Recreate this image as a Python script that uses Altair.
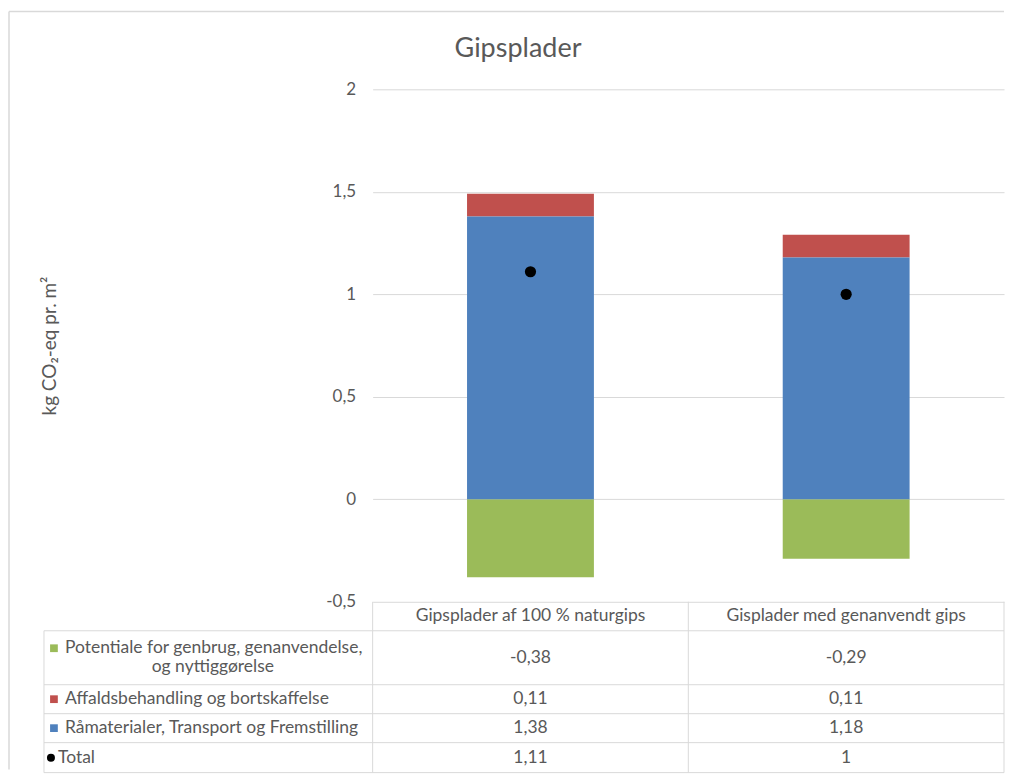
import altair as alt
import pandas as pd

# ---------------- data ----------------
categories = ["Gipsplader af 100 % naturgips", "Gisplader med genanvendt gips"]
series = [
    "Potentiale for genbrug, genanvendelse,\nog nyttiggørelse",
    "Affaldsbehandling og bortskaffelse",
    "Råmaterialer, Transport og Fremstilling",
]
series_colors = ["#9BBB59", "#C0504D", "#4F81BD"]
stack_order = [2, 1, 0]
potentiale = [-0.38, -0.29]
affald = [0.11, 0.11]
raamaterialer = [1.38, 1.18]
total = [1.11, 1.0]
total_label = "Total"
y_ticks = [-0.5, 0, 0.5, 1, 1.5, 2]

# ---------------- layout constants ----------------
FONT = "Lato"
TXT = "#595959"
GRID = "#D9D9D9"
PLOT_W = 632
PLOT_H = 513
TABLE_H = 171
ROW_H = [29, 54, 29, 29, 30]
LEFT_COL = -329
BORDER_X = -364
BORDER_TOP = -591


def fmt(v):
    return f"{v:g}".replace(".", ",")


# ---------------- bar chart ----------------
values = [potentiale, affald, raamaterialer]
rows = []
for s, vals, o in zip(series, values, stack_order):
    for c, v in zip(categories, vals):
        rows.append({"category": c, "series": s, "value": v, "order": o})
bars_df = pd.DataFrame(rows)
tot_df = pd.DataFrame({"category": categories, "total": total})

x_enc = alt.X("category:N", sort=categories,
              scale=alt.Scale(paddingInner=0, paddingOuter=0), axis=None)

bars = alt.Chart(bars_df).mark_bar(size=127).encode(
    x=x_enc,
    y=alt.Y("value:Q", stack="zero",
            scale=alt.Scale(domain=[-0.5, 2], nice=False, zero=False),
            axis=alt.Axis(values=y_ticks, grid=True, gridColor=GRID, domain=False,
                          ticks=False, tickSize=0, labelPadding=17, labelFontSize=17,
                          labelFont=FONT, labelColor=TXT,
                          labelExpr="replace(toString(datum.value), '.', ',')",
                          title="kg CO₂-eq pr. m²", titleFontSize=19, titleFont=FONT,
                          titleColor=TXT,
                          titleFontWeight="normal", titleX=-313, titleY=PLOT_H / 2)),
    color=alt.Color("series:N", scale=alt.Scale(domain=series, range=series_colors),
                    legend=None),
    order=alt.Order("order:Q"),
)
dots = alt.Chart(tot_df).mark_circle(size=125, color="black", opacity=1).encode(
    x=x_enc, y=alt.Y("total:Q"))

top = alt.layer(bars, dots).properties(
    width=PLOT_W, height=PLOT_H,
    title=alt.TitleParams("Gipsplader", anchor="start", frame="group", dx=82,
                          offset=17, fontSize=27, font=FONT, color=TXT,
                          fontWeight="normal"),
)

# ---------------- data table ----------------
cum = [0]
for h in ROW_H:
    cum.append(cum[-1] + h)
centers = [(cum[i] + cum[i + 1]) / 2 for i in range(len(ROW_H))]

y_tab = alt.Y("ty:Q", scale=alt.Scale(domain=[0, TABLE_H], reverse=True, nice=False,
                                      zero=False), axis=None)
y2_tab = alt.Y2("ty2:Q")
xt = alt.X("category:N", sort=categories,
           scale=alt.Scale(paddingInner=0, paddingOuter=0), axis=None)

head_df = pd.DataFrame({"category": categories, "ty": centers[0], "txt": categories})
cell_rows = []
for r, vals in enumerate([potentiale, affald, raamaterialer, total]):
    for c, v in zip(categories, vals):
        cell_rows.append({"category": c, "ty": centers[r + 1], "txt": fmt(v)})
cell_df = pd.DataFrame(cell_rows)

text_props = dict(font=FONT, fontSize=17.5, color=TXT, baseline="middle")
head = alt.Chart(head_df).mark_text(**text_props).encode(x=xt, y=y_tab, text="txt:N")
cells = alt.Chart(cell_df).mark_text(**text_props).encode(x=xt, y=y_tab, text="txt:N")

left_rows, center_rows, sym_rows = [], [], []
for i, (s, col) in enumerate(zip(series, series_colors)):
    parts = s.split("\n")
    c = centers[i + 1]
    if len(parts) == 1:
        left_rows.append({"ty": c, "txt": parts[0]})
        sym_rows.append({"ty": c, "col": col})
    else:
        left_rows.append({"ty": c - 9.5, "txt": parts[0]})
        sym_rows.append({"ty": c - 9.5, "col": col})
        center_rows.append({"ty": c + 9.5, "txt": parts[1]})
left_df = pd.DataFrame(left_rows)
center_df = pd.DataFrame(center_rows)
sym_df = pd.DataFrame(sym_rows)
tot_lab_df = pd.DataFrame({"ty": [centers[4]], "txt": [total_label]})

lab_left = alt.Chart(left_df).mark_text(align="left", **text_props).encode(
    x=alt.value(-308), y=y_tab, text="txt:N")
lab_center = alt.Chart(center_df).mark_text(align="center", **text_props).encode(
    x=alt.value(-160), y=y_tab, text="txt:N")
lab_total = alt.Chart(tot_lab_df).mark_text(align="left", **text_props).encode(
    x=alt.value(-315), y=y_tab, text="txt:N")
syms = alt.Chart(sym_df).mark_square(size=60, opacity=1).encode(
    x=alt.value(-319), y=y_tab, color=alt.Color("col:N", scale=None))
sym_tot = alt.Chart(tot_lab_df).mark_circle(size=64, color="black", opacity=1).encode(
    x=alt.value(-322), y=y_tab)

# table borders
hl_df = pd.DataFrame({"ty": cum[1:]})
hlines = alt.Chart(hl_df).mark_rule(color=GRID, strokeWidth=1).encode(
    x=alt.value(LEFT_COL), x2=alt.value(PLOT_W), y=y_tab)
vlayers = []
for xv, y0 in [(LEFT_COL, cum[1]), (0, 0), (PLOT_W / 2, 0), (PLOT_W, 0)]:
    vdf = pd.DataFrame({"ty": [y0], "ty2": [TABLE_H]})
    vlayers.append(alt.Chart(vdf).mark_rule(color=GRID, strokeWidth=1).encode(
        x=alt.value(xv), y=y_tab, y2=y2_tab))

# outer chart frame (left and top edges)
frame_l = alt.Chart(pd.DataFrame({"ty": [BORDER_TOP], "ty2": [TABLE_H - 3]})).mark_rule(
    color=GRID, strokeWidth=1.5).encode(x=alt.value(BORDER_X), y=y_tab, y2=y2_tab)
frame_t = alt.Chart(pd.DataFrame({"ty": [BORDER_TOP]})).mark_rule(
    color=GRID, strokeWidth=1.5).encode(x=alt.value(BORDER_X), x2=alt.value(PLOT_W), y=y_tab)

table = alt.layer(hlines, *vlayers, frame_l, frame_t, syms, sym_tot,
                  head, cells, lab_left, lab_center, lab_total).properties(
    width=PLOT_W, height=TABLE_H)

chart = alt.vconcat(top, table, spacing=0, bounds="flush").properties(
    padding={"left": 0, "top": 2, "right": 0, "bottom": 0}
).configure(background="white").configure_view(stroke=None).configure_axis(
    labelFont=FONT, titleFont=FONT, labelColor=TXT, titleColor=TXT
)

chart.save("out.html", embed_options={"renderer": "svg", "actions": False})
